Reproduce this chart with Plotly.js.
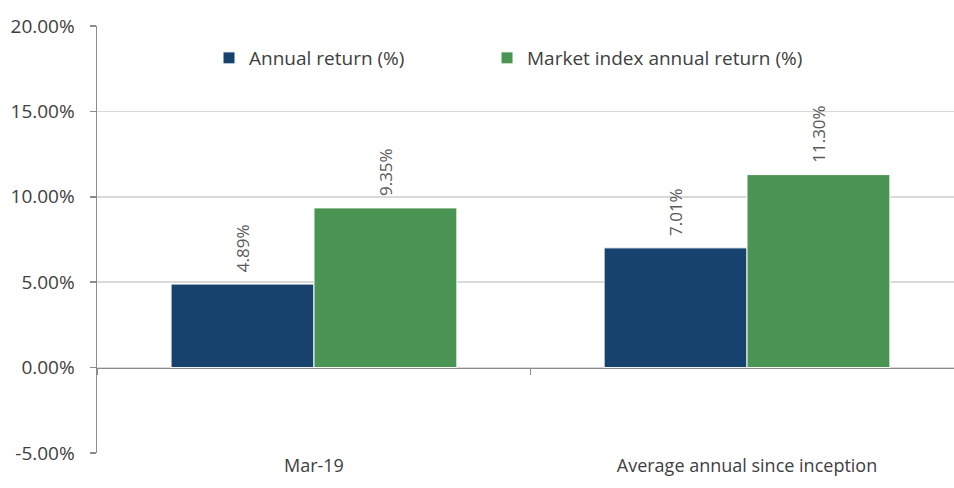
<!DOCTYPE html>
<html>
<head>
<meta charset="utf-8">
<script src="https://cdn.plot.ly/plotly-3.0.1.min.js"></script>
<style>html,body{margin:0;padding:0;background:#fff;}#chart{width:954px;height:488px;}</style>
</head>
<body>
<div id="chart"></div>
<script>
const categories = ["Mar-19", "Average annual since inception"];
const annualReturn = [4.89, 7.01];
const marketReturn = [9.35, 11.30];
const annualLabels = ["4.89%", "7.01%"];
const marketLabels = ["9.35%", "11.30%"];
const yTickVals = [-5, 0, 5, 10, 15, 20];
const yTickText = ["-5.00%", "0.00%", "5.00%", "10.00%", "15.00%", "20.00%"];

const FONT = "Open Sans, Noto Sans, sans-serif";
const labelFont = {family: FONT, size: 17, color: "#595959"};
const mainFont = {family: FONT, size: 19, color: "#404040"};

const traces = [
  {
    type: "bar", name: "Annual return (%)", x: categories, y: annualReturn, legend: "legend",
    text: annualLabels, texttemplate: "\u00a0\u00a0%{text}", textposition: "outside", textangle: -90, textfont: labelFont,
    cliponaxis: false, hoverinfo: "skip",
    marker: {color: "#17426d", line: {color: "#ffffff", width: 1}}
  },
  {
    type: "bar", name: "Market index annual return (%)", x: categories, y: marketReturn, legend: "legend2",
    text: marketLabels, texttemplate: "\u00a0\u00a0%{text}", textposition: "outside", textangle: -90, textfont: labelFont,
    cliponaxis: false, hoverinfo: "skip",
    marker: {color: "#4a9553", line: {color: "#ffffff", width: 1}}
  }
];

const xRange = [-0.501, 1.478];
const legendBase = {orientation: "h", xanchor: "left", y: 0.925, yanchor: "middle",
  font: mainFont, bgcolor: "rgba(0,0,0,0)"};

const layout = {
  width: 954, height: 488,
  margin: {l: 97, r: 0, t: 26, b: 35},
  paper_bgcolor: "#ffffff", plot_bgcolor: "#ffffff",
  font: mainFont,
  barmode: "group", bargap: 0.34, bargroupgap: 0,
  showlegend: true,
  legend: Object.assign({}, legendBase, {x: 0.1307}),
  legend2: Object.assign({}, legendBase, {x: 0.4551}),
  xaxis: {
    type: "category", categoryorder: "array", categoryarray: categories,
    range: xRange, showgrid: false, zeroline: false, showline: false,
    ticks: "", ticklabelstandoff: 0,
    tickfont: {family: FONT, size: 18, color: "#404040"}
  },
  xaxis2: {
    type: "category", categoryorder: "array", categoryarray: categories,
    overlaying: "x", anchor: "free", position: 0.2, range: xRange,
    showgrid: false, zeroline: false, showline: true, linecolor: "#8c8c8c", linewidth: 1.5,
    ticks: "outside", ticklen: 6, tickcolor: "#8c8c8c", tickwidth: 1.5, tickson: "boundaries",
    showticklabels: false
  },
  yaxis: {
    range: [-5, 20], tickvals: yTickVals, ticktext: yTickText,
    showgrid: true, gridcolor: "#d9d9d9", gridwidth: 1.5, zeroline: false,
    showline: true, linecolor: "#8c8c8c", linewidth: 1.5,
    ticks: "outside", ticklen: 6, tickcolor: "#8c8c8c", tickwidth: 1.5,
    ticklabelstandoff: 11,
    tickfont: mainFont
  }
};

const helperTrace = {type: "bar", x: categories, y: [null, null], xaxis: "x2", yaxis: "y",
  showlegend: false, hoverinfo: "skip"};

Plotly.newPlot("chart", traces.concat([helperTrace]), layout, {displayModeBar: false, staticPlot: true});
</script>
</body>
</html>
